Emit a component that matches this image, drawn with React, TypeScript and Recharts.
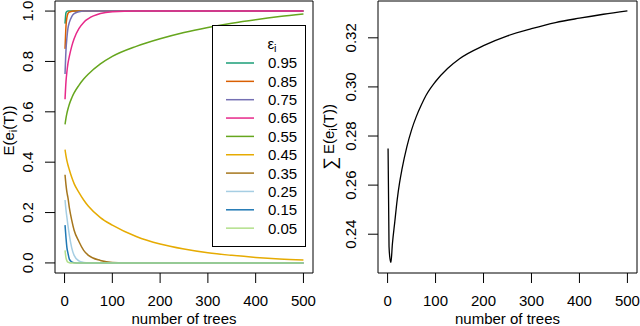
import { LineChart, Line, XAxis, YAxis, ReferenceArea, Legend, Label } from "recharts";

const FONT = '"Liberation Sans", Arial, Helvetica, sans-serif';

// left panel: expected value per tree count, one array per epsilon
const TREES = [1, 3, 5, 7, 10, 15, 20, 30, 40, 50, 75, 100, 150, 200, 250, 300, 350, 400, 450, 500];
const E_095 = [0.95, 0.993, 0.999, 1, 1, 1, 1, 1, 1, 1, 1, 1, 1, 1, 1, 1, 1, 1, 1, 1];
const E_085 = [0.85, 0.94, 0.975, 0.99, 0.996, 0.999, 1, 1, 1, 1, 1, 1, 1, 1, 1, 1, 1, 1, 1, 1];
const E_075 = [0.75, 0.845, 0.895, 0.93, 0.955, 0.978, 0.99, 0.997, 1, 1, 1, 1, 1, 1, 1, 1, 1, 1, 1, 1];
const E_065 = [0.65, 0.72, 0.76, 0.79, 0.82, 0.86, 0.89, 0.93, 0.955, 0.97, 0.99, 0.997, 1, 1, 1, 1, 1, 1, 1, 1];
const E_055 = [0.55, 0.575, 0.595, 0.61, 0.63, 0.655, 0.675, 0.705, 0.73, 0.75, 0.79, 0.82, 0.86, 0.89, 0.915, 0.935, 0.952, 0.966, 0.978, 0.988];
const E_045 = [0.45, 0.425, 0.405, 0.39, 0.37, 0.34, 0.315, 0.28, 0.25, 0.225, 0.18, 0.15, 0.105, 0.075, 0.055, 0.04, 0.03, 0.022, 0.016, 0.012];
const E_035 = [0.35, 0.31, 0.28, 0.26, 0.22, 0.17, 0.13, 0.085, 0.05, 0.03, 0.01, 0.002, 0, 0, 0, 0, 0, 0, 0, 0];
const E_025 = [0.25, 0.21, 0.18, 0.15, 0.11, 0.06, 0.03, 0.008, 0.002, 0, 0, 0, 0, 0, 0, 0, 0, 0, 0, 0];
const E_015 = [0.15, 0.1, 0.06, 0.04, 0.015, 0.004, 0.001, 0, 0, 0, 0, 0, 0, 0, 0, 0, 0, 0, 0, 0];
const E_005 = [0.05, 0.02, 0.008, 0.003, 0.001, 0, 0, 0, 0, 0, 0, 0, 0, 0, 0, 0, 0, 0, 0, 0];

const SERIES = [
  { key: "e95", label: "0.95", color: "#1B9E77", values: E_095 },
  { key: "e85", label: "0.85", color: "#D95F02", values: E_085 },
  { key: "e75", label: "0.75", color: "#7570B3", values: E_075 },
  { key: "e65", label: "0.65", color: "#E7298A", values: E_065 },
  { key: "e55", label: "0.55", color: "#66A61E", values: E_055 },
  { key: "e45", label: "0.45", color: "#E6AB02", values: E_045 },
  { key: "e35", label: "0.35", color: "#A6761D", values: E_035 },
  { key: "e25", label: "0.25", color: "#A6CEE3", values: E_025 },
  { key: "e15", label: "0.15", color: "#1F78B4", values: E_015 },
  { key: "e05", label: "0.05", color: "#B2DF8A", values: E_005 },
];

// right panel: sum over i
const SUM_TREES = [1, 3, 5, 7, 10, 15, 20, 25, 30, 40, 50, 60, 70, 80, 100, 125, 150, 200, 250, 300, 350, 400, 450, 500];
const SUM_E = [0.2749, 0.235, 0.23, 0.2285, 0.236, 0.245, 0.254, 0.261, 0.2665, 0.2755, 0.2825, 0.288, 0.2925, 0.2965, 0.3022, 0.3075, 0.3115, 0.3168, 0.3208, 0.3237, 0.3262, 0.328, 0.3296, 0.331];

const X_TICKS = [0, 100, 200, 300, 400, 500];
const X_DOMAIN = [-20, 520];
const LEFT_Y_TICKS = [0, 0.2, 0.4, 0.6, 0.8, 1.0];
const LEFT_Y_DOMAIN = [-0.04, 1.04];
const RIGHT_Y_TICKS = [0.24, 0.26, 0.28, 0.3, 0.32];
const RIGHT_Y_DOMAIN = [0.2242, 0.335];

const leftData = TREES.map((t, i) => {
  const row: Record<string, number> = { t };
  SERIES.forEach((s) => (row[s.key] = s.values[i]));
  return row;
});
const rightData = SUM_TREES.map((t, i) => ({ t, sum: SUM_E[i] }));

const XTick = (props: any) => (
  <text x={props.x} y={props.y + 23} textAnchor="middle" fontSize={15} fontFamily={FONT} fill="#000">
    {props.payload.value}
  </text>
);

const makeYTick = (digits: number) => (props: any) => {
  const bx = props.x - 12;
  return (
    <text
      x={bx}
      y={props.y}
      transform={`rotate(-90 ${bx} ${props.y})`}
      textAnchor="middle"
      fontSize={15}
      fontFamily={FONT}
      fill="#000"
    >
      {Number(props.payload.value).toFixed(digits)}
    </text>
  );
};

const XTitle = (props: any) => {
  const vb = props.viewBox;
  return (
    <text x={vb.x + vb.width / 2} y={vb.y + vb.height - 2} textAnchor="middle" fontSize={15} fontFamily={FONT} fill="#000">
      number of trees
    </text>
  );
};

const LeftYTitle = (props: any) => {
  const vb = props.viewBox;
  const cx = 14;
  const cy = vb.y + vb.height / 2 - 6.5;
  return (
    <text x={cx} y={cy} transform={`rotate(-90 ${cx} ${cy})`} textAnchor="middle" fontSize={15} fontFamily={FONT} fill="#000">
      E(e<tspan fontSize={11} dy={3}>i</tspan>
      <tspan dy={-3}>(T))</tspan>
    </text>
  );
};

const RightYTitle = (props: any) => {
  const vb = props.viewBox;
  const cx = 14;
  const cy = vb.y + vb.height / 2;
  return (
    <text x={cx} y={cy} transform={`rotate(-90 ${cx} ${cy})`} textAnchor="middle" fontSize={15} fontFamily={FONT} fill="#000">
      <tspan fontSize={18} dy={2}>∑</tspan>
      <tspan dx={3} dy={-2}>E(e</tspan>
      <tspan fontSize={11} dy={3}>i</tspan>
      <tspan dy={-3}>(T))</tspan>
    </text>
  );
};

const EpsLegend = (props: any) => {
  const order = SERIES.map((s) => s.label);
  const items = [...(props.payload || [])].sort(
    (a: any, b: any) => order.indexOf(a.value) - order.indexOf(b.value)
  );
  return (
    <svg width={94} height={222} style={{ display: "block" }}>
      <rect x={0.5} y={0.5} width={93} height={221} fill="#fff" stroke="#000" />
      <text x={60} y={24} textAnchor="middle" fontSize={15} fontFamily={FONT} fill="#000">
        ε<tspan fontSize={11} dy={3}>i</tspan>
      </text>
      {items.map((it: any, i: number) => {
        const cy = 38 + i * 18.35;
        return (
          <g key={it.value}>
            <line x1={14} x2={42} y1={cy} y2={cy} stroke={it.color} strokeWidth={1.5} />
            <text x={56} y={cy + 5.4} fontSize={15} fontFamily={FONT} fill="#000">
              {it.value}
            </text>
          </g>
        );
      })}
    </svg>
  );
};

export default function App() {
  return (
    <div style={{ position: "absolute", left: 0, top: 0, width: 640, height: 326, background: "#fff" }}>
      <div style={{ position: "absolute", left: 0, top: 0 }}>
        <LineChart width={320} height={326} data={leftData} margin={{ top: 1, right: 7, bottom: 0, left: 0 }}>
          <XAxis
            dataKey="t"
            type="number"
            domain={X_DOMAIN}
            ticks={X_TICKS}
            interval={0}
            allowDataOverflow
            axisLine={false}
            tickSize={10}
            tickMargin={0}
            tickLine={{ stroke: "#000" }}
            tick={XTick}
            height={53}
          >
            <Label content={XTitle} />
          </XAxis>
          <YAxis
            type="number"
            domain={LEFT_Y_DOMAIN}
            ticks={LEFT_Y_TICKS}
            interval={0}
            allowDataOverflow
            axisLine={false}
            tickSize={10}
            tickMargin={0}
            tickLine={{ stroke: "#000" }}
            tick={makeYTick(1)}
            width={55}
          >
            <Label content={LeftYTitle} />
          </YAxis>
          <ReferenceArea x1={X_DOMAIN[0]} x2={X_DOMAIN[1]} y1={LEFT_Y_DOMAIN[0]} y2={LEFT_Y_DOMAIN[1]} fill="none" stroke="#000" strokeWidth={1} />
          {SERIES.map((s) => (
            <Line
              key={s.key}
              dataKey={s.key}
              name={s.label}
              type="monotone"
              stroke={s.color}
              strokeWidth={1.5}
              dot={false}
              isAnimationActive={false}
            />
          ))}
          <Legend
            layout="vertical"
            align="center"
            verticalAlign="middle"
            content={EpsLegend}
            wrapperStyle={{ position: "absolute", left: 212, top: 25, width: 94, height: 222 }}
          />
        </LineChart>
      </div>
      <div style={{ position: "absolute", left: 320, top: 0 }}>
        <LineChart width={320} height={326} data={rightData} margin={{ top: 1, right: 3, bottom: 0, left: 0 }}>
          <XAxis
            dataKey="t"
            type="number"
            domain={X_DOMAIN}
            ticks={X_TICKS}
            interval={0}
            allowDataOverflow
            axisLine={false}
            tickSize={10}
            tickMargin={0}
            tickLine={{ stroke: "#000" }}
            tick={XTick}
            height={53}
          >
            <Label content={XTitle} />
          </XAxis>
          <YAxis
            type="number"
            domain={RIGHT_Y_DOMAIN}
            ticks={RIGHT_Y_TICKS}
            interval={0}
            allowDataOverflow
            axisLine={false}
            tickSize={10}
            tickMargin={0}
            tickLine={{ stroke: "#000" }}
            tick={makeYTick(2)}
            width={58}
          >
            <Label content={RightYTitle} />
          </YAxis>
          <ReferenceArea x1={X_DOMAIN[0]} x2={X_DOMAIN[1]} y1={RIGHT_Y_DOMAIN[0]} y2={RIGHT_Y_DOMAIN[1]} fill="none" stroke="#000" strokeWidth={1} />
          <Line dataKey="sum" type="monotone" stroke="#000" strokeWidth={1.3} dot={false} isAnimationActive={false} />
        </LineChart>
      </div>
    </div>
  );
}
